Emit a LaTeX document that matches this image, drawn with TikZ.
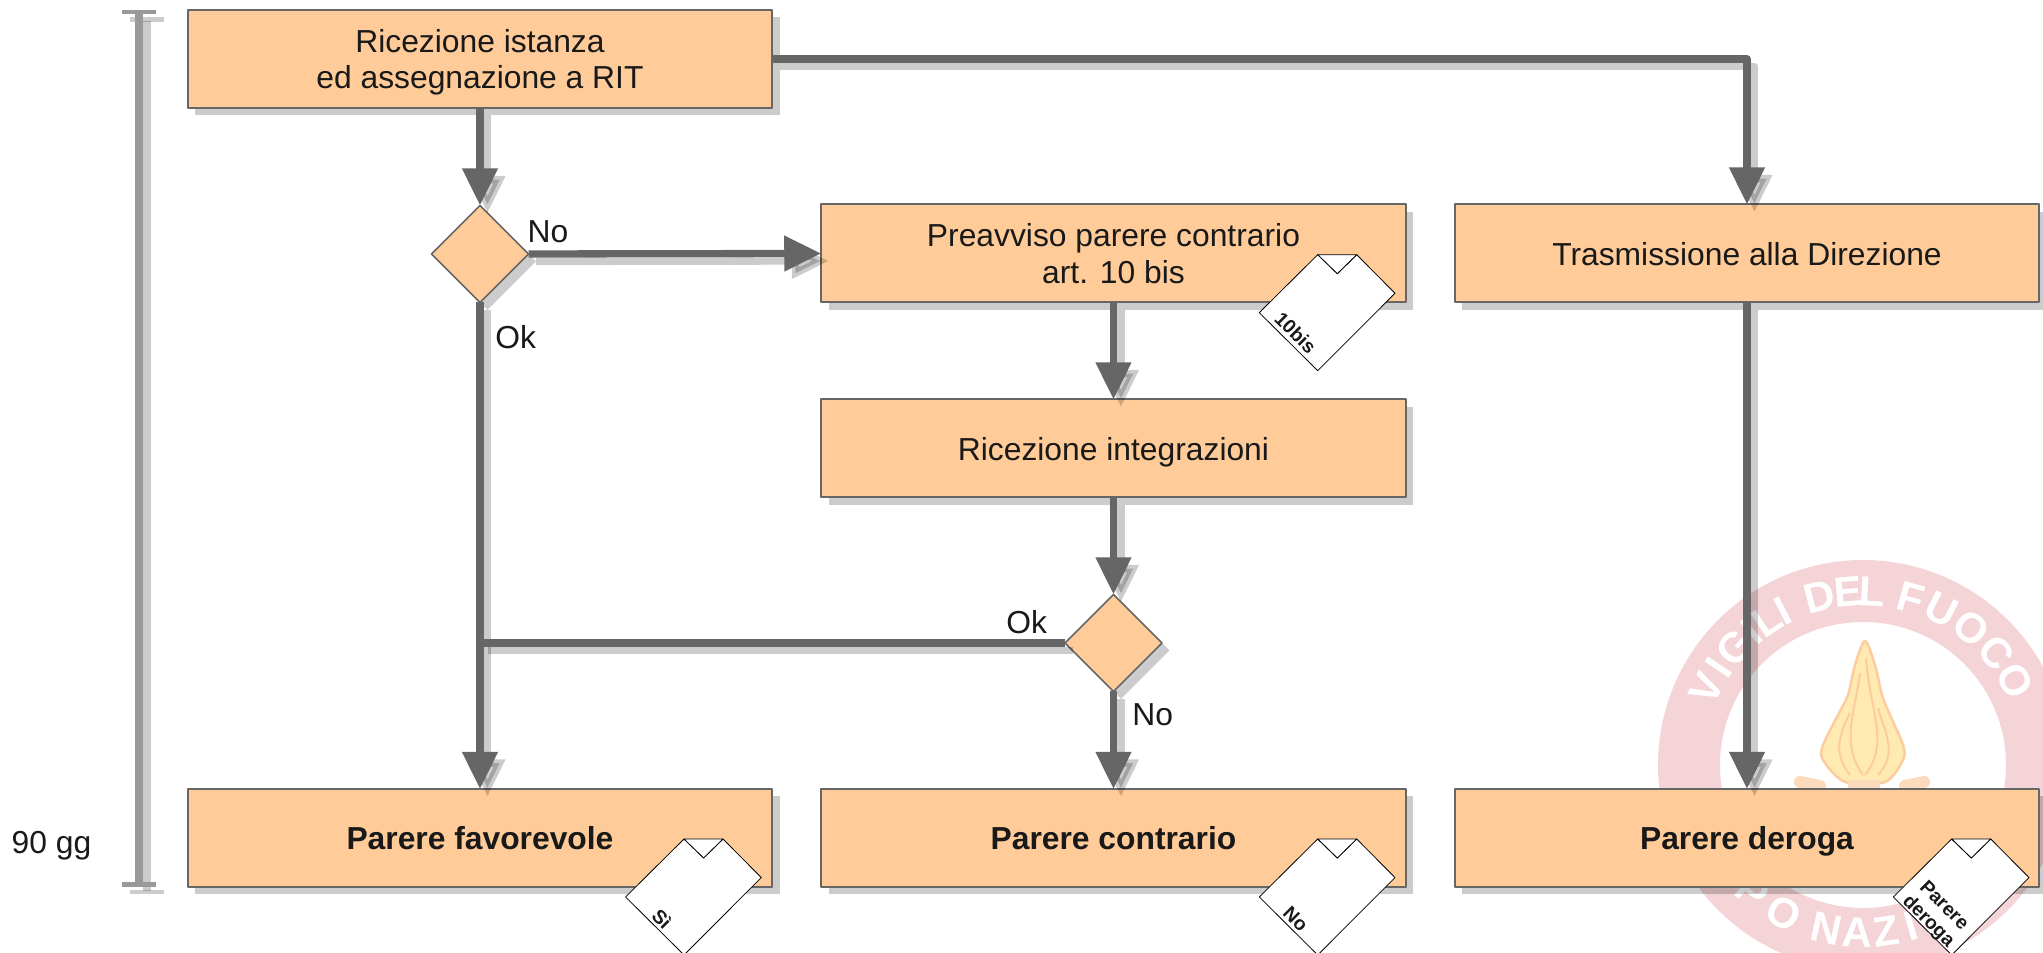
\documentclass[tikz,border=0pt]{standalone}
\usepackage{fontspec}
\setmainfont{Liberation Sans}
\usepackage{tikz}
\usetikzlibrary{arrows.meta}
\usetikzlibrary{calc}
\usetikzlibrary{shapes.geometric}
\usetikzlibrary{shadows}
\definecolor{boxorange}{rgb}{1,0.8,0.6}
\definecolor{flowgray}{rgb}{0.4,0.4,0.4}
\definecolor{bargray}{rgb}{0.6,0.6,0.6}
\definecolor{ringpink}{rgb}{0.955,0.83,0.845}
\definecolor{flamefill}{rgb}{1,0.92,0.70}
\definecolor{flameedge}{rgb}{0.98,0.80,0.62}
\tikzset{
  softshadow/.style={drop shadow={shadow xshift=0.075cm,shadow yshift=-0.075cm,fill=black,opacity=0.2}},
  stepbox/.style={rectangle,draw=flowgray,fill=boxorange,line width=0.02cm,outer sep=0pt,minimum width=5.845cm,minimum height=0.98cm,inner sep=0pt,align=center,text depth=0pt,softshadow,font=\fontsize{9.05}{10.4}\selectfont,text=black!90},
  resultbox/.style={stepbox,font=\fontsize{9.05}{10.4}\selectfont\bfseries},
  choicebox/.style={diamond,aspect=1,draw=flowgray,fill=boxorange,line width=0.015cm,outer sep=0pt,minimum width=0.97cm,minimum height=0.97cm,inner sep=0pt,softshadow},
  flowline/.style={line width=0.073cm,color=flowgray},
  flowshadow/.style={line width=0.073cm,color=black,opacity=0.2,transform canvas={shift={(0.075,-0.075)}}},
  flowtip/.style={-{Triangle[length=0.37cm,width=0.34cm]}},
  barline/.style={line width=0.08cm,color=bargray},
  barshadow/.style={line width=0.08cm,color=black,opacity=0.2,transform canvas={shift={(0.075,-0.075)}}},
  bartip/.style={{Bar[width=0.34cm,line width=0.045cm]}-{Bar[width=0.34cm,line width=0.045cm]}},
  tag/.style={font=\fontsize{9.05}{10.4}\selectfont,text=black!90,inner sep=0pt},
  ringletter/.style={font=\fontsize{12}{12}\selectfont\bfseries,text=white,inner sep=0pt},
  sheet/.style={draw=black,fill=white,line width=0.008cm,line join=round},
  sheettext/.style={font=\fontsize{5.5}{6.2}\selectfont\bfseries,text=black!90,rotate=-45,align=center,inner sep=0pt},
}
\newcommand{\docsheet}[5]{%
  \draw[sheet] #1 ++(0,0) -- ++(0.196,-0.19) -- ++(0.194,0.19) -- ++(0.383,-0.386) -- ++(-0.773,-0.774) -- ++(-0.584,0.58) -- cycle;
  \draw[sheet] #1 ++(0,0) -- ++(0.39,0) -- ++(-0.194,-0.19) -- cycle;
  \node[sheettext] (#2) at ($#1+(#3,#4)$) {#5};
}
\begin{document}
\begin{tikzpicture}[line cap=butt,line join=round,x=1cm,y=1cm]
\clip (0,0) rectangle (20.43,9.53);
% watermark
\coordinate (ringc) at (18.63,1.88);
\draw[ringpink,line width=0.62cm] (ringc) circle (1.74);
\foreach \ang/\ch in {154/V,146/I,137.5/G,130/I,123.5/L,117.5/I,104.5/D,95/E,87/L,74/F,63/U,51.5/O,40/C,29/O}
  \node[ringletter,rotate=\ang-90] (top\ang) at ([shift={(\ang:1.74)}]ringc) {\ch};
\foreach \ang/\ch in {229/P,242/O,257.5/N,268/A,278/Z,286.5/I}
  \node[ringletter,rotate=\ang+90] (low\ang) at ([shift={(\ang:1.68)}]ringc) {\ch};
\draw[flameedge,fill=flamefill,line width=0.025cm] plot[smooth cycle] coordinates {(18.65,3.12) (18.75,2.88) (18.82,2.58) (18.90,2.38) (19.03,2.08) (19.03,1.93) (18.85,1.71) (18.45,1.71) (18.23,1.93) (18.23,2.08) (18.38,2.38) (18.48,2.58) (18.55,2.88)};
\draw[flameedge,line width=0.02cm] (18.63,1.78) .. controls (18.40,2.10) and (18.55,2.40) .. (18.60,2.80);
\draw[flameedge,line width=0.02cm] (18.65,1.78) .. controls (18.90,2.10) and (18.70,2.40) .. (18.66,2.95);
\draw[flameedge,line width=0.02cm] (18.50,1.78) .. controls (18.32,2.00) and (18.40,2.20) .. (18.50,2.40);
\draw[flameedge,line width=0.02cm] (18.78,1.78) .. controls (18.98,2.00) and (18.85,2.20) .. (18.78,2.45);
\fill[flameedge!70!white] (18.48,1.60) rectangle (18.80,1.73);
\draw[flameedge!70!white,line width=0.12cm,line cap=round] (18.00,1.71) -- (18.20,1.67);
\draw[flameedge!70!white,line width=0.12cm,line cap=round] (19.05,1.67) -- (19.24,1.71);
% boxes
\node[stepbox] (ricezione) at (4.8,8.94) {Ricezione istanza\\ed assegnazione a RIT};
\node[stepbox] (preavviso) at (11.135,6.995) {Preavviso parere contrario\\art. 10 bis};
\node[stepbox] (trasmissione) at (17.47,6.995) {Trasmissione alla Direzione};
\node[stepbox] (integrazioni) at (11.135,5.045) {Ricezione integrazioni};
\node[resultbox] (favorevole) at (4.8,1.15) {Parere favorevole};
\node[resultbox] (contrario) at (11.135,1.15) {Parere contrario};
\node[resultbox] (deroga) at (17.47,1.15) {Parere deroga};
\node[choicebox] (sceltauno) at (4.8,6.99) {};
\node[choicebox] (sceltadue) at (11.135,3.10) {};
% connectors, shadows first
\foreach \s in {flowshadow,flowline} {
\draw[\s,flowtip] (ricezione.south) -- (sceltauno.north);
\draw[\s,flowtip] (ricezione.east) -| (trasmissione.north);
\draw[\s,flowtip] (sceltauno.east) -- (preavviso.west);
\draw[\s,flowtip] (sceltauno.south) -- (favorevole.north);
\draw[\s,flowtip] (preavviso.south) -- (integrazioni.north);
\draw[\s,flowtip] (integrazioni.south) -- (sceltadue.north);
\draw[\s,flowtip] (sceltadue.south) -- (contrario.north);
\draw[\s] (sceltadue.west) -- (sceltadue.west -| sceltauno.south);
\draw[\s,flowtip] (trasmissione.south) -- (deroga.north);
}
% time bar
\coordinate (bartop) at (1.39,9.43);
\coordinate (barbot) at (1.39,0.66);
\draw[barshadow,bartip] (bartop) -- (barbot);
\draw[barline,bartip] (bartop) -- (barbot);
\node[tag] (giorni) at (0.515,1.07) {90 gg};
% labels
\node[tag] (nouno) at (5.48,7.21) {No};
\node[tag] (okuno) at (5.157,6.163) {Ok};
\node[tag] (okdue) at (10.267,3.313) {Ok};
\node[tag] (nodue) at (11.527,2.38) {No};
% sheets
\docsheet{(13.177,6.983)}{sheetbis}{-0.22}{-0.78}{10bis}
\docsheet{(6.84,1.14)}{sheetsi}{-0.22}{-0.80}{Sì}
\docsheet{(13.177,1.14)}{sheetno}{-0.22}{-0.80}{No}
\docsheet{(19.517,1.14)}{sheetderoga}{-0.16}{-0.75}{Parere\\deroga}
\end{tikzpicture}
\end{document}
